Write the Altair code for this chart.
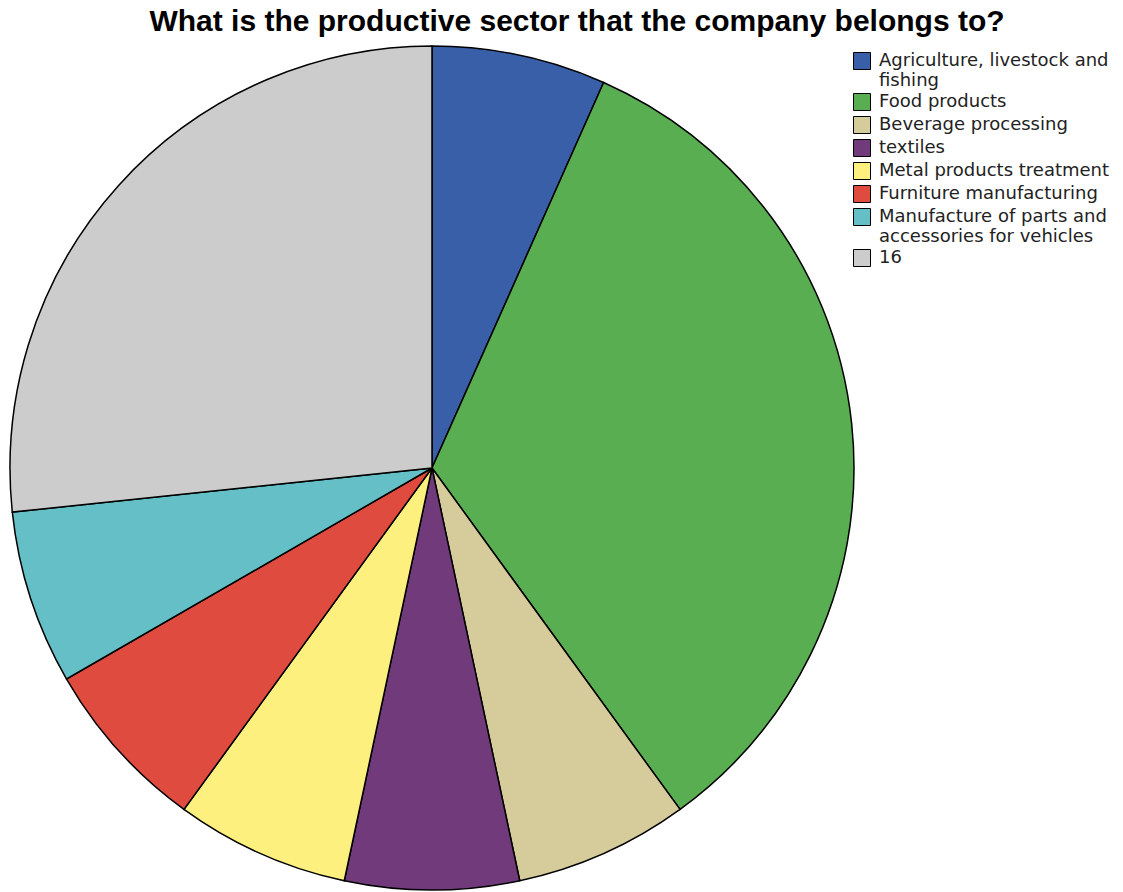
import altair as alt
import pandas as pd

categories = [
    "Agriculture, livestock and fishing",
    "Food products",
    "Beverage processing",
    "textiles",
    "Metal products treatment",
    "Furniture manufacturing",
    "Manufacture of parts and accessories for vehicles",
    "16",
]
counts = [1, 5, 1, 1, 1, 1, 1, 4]
colors = ["#3a5fa9", "#5aae52", "#d5cb9b", "#703a7b", "#fdf07f", "#df4c3f", "#65bfc6", "#cccccc"]

df = pd.DataFrame({"sector": categories, "count": counts, "idx": list(range(len(categories)))})

label_expr = (
    "datum.label == 'Agriculture, livestock and fishing' ? ['Agriculture, livestock and', 'fishing'] : "
    "datum.label == 'Manufacture of parts and accessories for vehicles' ? ['Manufacture of parts and', 'accessories for vehicles'] : "
    "datum.label"
)

chart = (
    alt.Chart(df)
    .mark_arc(stroke="black", strokeWidth=1.5)
    .encode(
        theta=alt.Theta("count:Q", stack=True),
        color=alt.Color(
            "sector:N",
            sort=categories,
            scale=alt.Scale(domain=categories, range=colors),
            legend=alt.Legend(
                title=None,
                orient="none",
                legendX=843,
                legendY=6,
                symbolType="square",
                symbolSize=289,
                symbolStrokeColor="black",
                symbolStrokeWidth=1,
                symbolOpacity=1,
                labelFont="DejaVu Sans",
                labelFontSize=18,
                labelColor="#222222",
                labelExpr=label_expr,
                labelLimit=400,
                labelOffset=8,
                rowPadding=1,
            ),
        ),
        order=alt.Order("idx:Q"),
    )
    .properties(
        width=844,
        height=844,
        title=alt.TitleParams(
            "What is the productive sector that the company belongs to?",
            font="Liberation Sans",
            fontSize=30,
            fontWeight="bold",
            color="black",
            anchor="middle",
            dx=145,
            offset=6,
        ),
        autosize=alt.AutoSizeParams(type="none"),
        padding={"left": 10, "top": 46, "right": 269, "bottom": 2},
    )
    .configure_view(stroke=None)
)

chart.save("out.html", embed_options={"renderer": "svg", "actions": False})
